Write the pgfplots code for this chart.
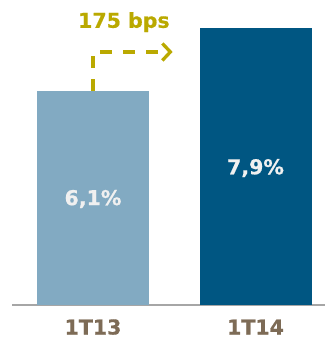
\documentclass[border=0pt]{standalone}
\usepackage{pgfplots}
\pgfplotsset{compat=1.18}
\usepackage{fontspec}
\setmainfont{DejaVu Sans}[BoldFeatures={FakeBold=0.6}]
\usetikzlibrary{arrows.meta}
\definecolor{barlight}{HTML}{82AAC2}
\definecolor{bardark}{HTML}{005682}
\definecolor{goldc}{HTML}{BAA900}
\definecolor{tickbrown}{HTML}{7D6B56}
\definecolor{axisgrey}{HTML}{A6A6A6}
\begin{document}
\begin{tikzpicture}
\useasboundingbox (-12bp,-37bp) rectangle (313bp,305bp);
\begin{axis}[
  at={(0,0)}, anchor=south west,
  scale only axis, width=313bp, height=305bp,
  xmin=-0.4985, xmax=1.4277, ymin=0, ymax=8.69,
  axis x line=bottom, axis y line=none,
  axis line style={draw=axisgrey, line width=2bp, -},
  xtick={0,1}, xticklabels={1T13,1T14}, major tick length=0pt,
  xticklabel style={font=\fontsize{20.5bp}{24bp}\selectfont\bfseries, text=tickbrown, anchor=base, yshift=-29.5bp},
  ytick=\empty,
  ybar, bar width=112bp, bar shift=0pt,
  clip=false,
]
\addplot[fill=barlight, draw=none] coordinates {(0,6.1)};
\addplot[fill=bardark, draw=none] coordinates {(1,7.9)};
\node[text=white!94!black, font=\fontsize{20.5bp}{24bp}\selectfont\bfseries] at (axis cs:0,3.02) {6,1\%};
\node[text=white!94!black, font=\fontsize{20.5bp}{24bp}\selectfont\bfseries] at (axis cs:1,3.9) {7,9\%};
\draw[goldc, line width=3.3bp, dash pattern=on 12bp off 11bp, -{Straight Barb[length=8bp,width=17bp,line width=3.3bp]}] (axis cs:0,6.1) -- (axis cs:0,7.21) -- (axis cs:0.49,7.21);
\node[text=goldc, font=\fontsize{20.5bp}{24bp}\selectfont\bfseries] at (axis cs:0.19,8.06) {175 bps};
\end{axis}
\end{tikzpicture}
\end{document}
